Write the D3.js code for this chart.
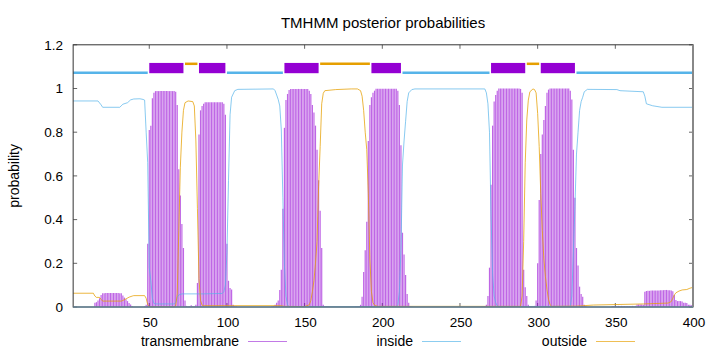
<!DOCTYPE html>
<html>
<head>
<meta charset="utf-8">
<script src="https://cdn.jsdelivr.net/npm/d3@7"></script>
<style>
  body { margin: 0; background: #fff; }
  svg { display: block; font-family: "Liberation Sans", Arial, sans-serif; }
</style>
</head>
<body>
<svg width="720" height="352"></svg>
<script>
// x ticks / y ticks
var xTicks = [50, 100, 150, 200, 250, 300, 350, 400];
var yTicks = [0, 0.2, 0.4, 0.6, 0.8, 1, 1.2];
var yTickLabels = ["0", "0.2", "0.4", "0.6", "0.8", "1", "1.2"];

// predicted topology (residue from, to)
var tmSegments = [[50, 72], [82, 99], [137, 159], [193, 212], [270, 292], [302, 324]];
var insideSegments = [[1, 49], [100, 136], [213, 269], [325, 400]];
var outsideSegments = [[73, 81], [160, 192], [293, 301]];

// transmembrane posterior, per residue, in runs starting at `start`
var tmRuns = [
    { start: 15, values: [0.02, 0.022, 0.03, 0.04, 0.055, 0.063, 0.063, 0.064, 0.064, 0.064, 0.064, 0.064, 0.064,
        0.064, 0.064, 0.064, 0.063, 0.063, 0.053, 0.043, 0.035, 0.027, 0.018, 0.012, 0.005] },
    { start: 47, values: [0.004, 0.01, 0.29, 0.81, 0.83, 0.955, 0.98,
        0.988, 0.988, 0.988, 0.988, 0.988, 0.988, 0.988, 0.988, 0.988, 0.988, 0.988, 0.988, 0.988,
        0.985, 0.925, 0.63, 0.51, 0.38, 0.27, 0.03, 0.005, 0.003, 0.003, 0.008, 0.003, 0.003,
        0.01, 0.11, 0.79, 0.9, 0.92, 0.93,
        0.937, 0.937, 0.937, 0.937, 0.937, 0.937, 0.937, 0.937, 0.937, 0.937, 0.937, 0.937,
        0.93, 0.88, 0.29, 0.12, 0.087, 0.08, 0.01, 0.004, 0.003] },
    { start: 129, values: [0.003, 0.005, 0.01, 0.02, 0.03, 0.078, 0.17, 0.45, 0.82, 0.947, 0.975, 0.993,
        0.998, 0.998, 0.998, 0.998, 0.998, 0.998, 0.998, 0.998, 0.998, 0.998, 0.998, 0.998,
        0.99, 0.975, 0.925, 0.89, 0.83, 0.72, 0.58, 0.44, 0.27, 0.01, 0.005, 0.004, 0.003] },
    { start: 183, values: [0.003, 0.003, 0.005, 0.01, 0.047, 0.16, 0.26, 0.39, 0.76, 0.925, 0.96, 0.98, 0.99,
        0.999, 0.999, 0.999, 0.999, 0.999, 0.999, 0.999, 0.999, 0.999, 0.999, 0.999, 0.999, 0.999, 0.999,
        0.99, 0.925, 0.74, 0.34, 0.24, 0.146, 0.06, 0.02, 0.005, 0.003] },
    { start: 264, values: [0.002, 0.002, 0.005, 0.01, 0.05, 0.18, 0.56, 0.83, 0.94, 0.97, 0.99,
        1, 1, 1, 1, 1, 1, 1, 1, 1, 1, 1, 1, 1, 1, 0.998,
        0.98, 0.17, 0.09, 0.05, 0.01, 0.005, 0.003] },
    { start: 297, values: [0.003, 0.005, 0.03, 0.2, 0.49, 0.7, 0.79, 0.856, 0.92, 0.98, 0.995,
        1, 1, 1, 1, 1, 1, 1, 1, 1, 1, 1, 1, 1,
        0.99, 0.95, 0.72, 0.5, 0.27, 0.19, 0.093, 0.06, 0.047, 0.01, 0.005] },
    { start: 348, values: [0.005, 0.005, 0.005, 0.005, 0.005, 0.005, 0.005, 0.005, 0.005, 0.005, 0.005, 0.005,
        0.005, 0.005, 0.005, 0.005, 0.012, 0.012, 0.012, 0.012, 0.01, 0.07,
        0.073, 0.074, 0.074, 0.075, 0.075, 0.075, 0.076, 0.076, 0.076, 0.077, 0.077, 0.077, 0.078, 0.078,
        0.077, 0.077, 0.076, 0.072, 0.055, 0.032, 0.027, 0.027, 0.027, 0.025, 0.02, 0.02, 0.018,
        0.01, 0.01, 0.008, 0.005] }
];

// inside / outside posterior, [residue, probability]
var insideProb = [[1, 0.943], [17, 0.943], [19, 0.925], [20, 0.914], [31, 0.914], [33, 0.928], [36, 0.935],
    [38, 0.948], [40, 0.952], [44, 0.953], [46, 0.95], [47, 0.947], [48, 0.8], [49, 0.66], [50, 0.18],
    [51, 0.12], [52, 0.04], [53, 0.016], [54, 0.014], [66, 0.014], [67, 0.02], [68, 0.045], [69, 0.055],
    [71, 0.06], [85, 0.06], [97, 0.062], [98, 0.07], [99, 0.1], [100, 0.25], [101, 0.58], [102, 0.88],
    [103, 0.96], [105, 0.99], [107, 0.996], [130, 0.998], [131, 0.99], [132, 0.97], [133, 0.95], [134, 0.92],
    [135, 0.81], [136, 0.5], [137, 0.19], [138, 0.05], [139, 0.01], [140, 0.002], [209, 0.002], [210, 0.01],
    [211, 0.07], [212, 0.26], [213, 0.65], [214, 0.76], [215, 0.85], [216, 0.94], [217, 0.98], [219, 0.995],
    [221, 0.998], [266, 0.998], [267, 0.98], [268, 0.93], [269, 0.8], [270, 0.42], [271, 0.15], [272, 0.05],
    [273, 0.02], [274, 0.005], [275, 0.002], [321, 0.003], [322, 0.05], [323, 0.25], [324, 0.46], [325, 0.7],
    [326, 0.8], [327, 0.9], [328, 0.94], [329, 0.96], [330, 0.985], [332, 0.996], [351, 0.995], [353, 0.99],
    [368, 0.985], [369, 0.965], [370, 0.93], [374, 0.921], [380, 0.914], [400, 0.914]];

var outsideProb = [[1, 0.063], [14, 0.063], [15, 0.05], [16, 0.044], [18, 0.044], [19, 0.035], [20, 0.027],
    [32, 0.027], [33, 0.03], [35, 0.037], [37, 0.045], [39, 0.05], [40, 0.052], [47, 0.052], [48, 0.04],
    [49, 0.01], [50, 0.003], [51, 0.001], [66, 0.001], [67, 0.005], [68, 0.06], [69, 0.35], [70, 0.64],
    [71, 0.8], [72, 0.9], [73, 0.935], [75, 0.943], [78, 0.94], [79, 0.92], [80, 0.76], [81, 0.45],
    [82, 0.13], [83, 0.03], [84, 0.008], [85, 0.006], [135, 0.006], [137, 0.003], [150, 0.002], [153, 0.01],
    [154, 0.03], [155, 0.07], [156, 0.12], [157, 0.2], [158, 0.3], [159, 0.55], [160, 0.734], [161, 0.93],
    [162, 0.978], [163, 0.99], [170, 0.995], [180, 0.998], [184, 0.998], [186, 0.99], [187, 0.965], [188, 0.9],
    [189, 0.8], [190, 0.72], [191, 0.52], [192, 0.22], [193, 0.07], [194, 0.02], [195, 0.008], [197, 0.003],
    [289, 0.003], [290, 0.05], [291, 0.3], [292, 0.66], [293, 0.856], [294, 0.947], [295, 0.985], [297, 0.998],
    [298, 0.995], [299, 0.98], [300, 0.886], [301, 0.734], [302, 0.52], [303, 0.35], [304, 0.22], [305, 0.14],
    [306, 0.08], [307, 0.035], [308, 0.01], [309, 0.003], [325, 0.004], [336, 0.009], [368, 0.014],
    [384, 0.018], [386, 0.025], [387, 0.04], [388, 0.055], [389, 0.065], [391, 0.073], [393, 0.078],
    [396, 0.08], [398, 0.086], [400, 0.09]];

var purple = "#9400d3", blue = "#56b4e9", orange = "#e69f00";

var svg = d3.select("svg");
// plot box (window.top is reserved, hence the names)
var plotLeft = 73.15, plotRight = 693, plotTop = 44.8, plotBottom = 307;

var x = d3.scaleLinear().domain([1, 400]).range([plotLeft, plotRight]);
var y = d3.scaleLinear().domain([0, 1.2]).range([plotBottom, plotTop]);

// flatten runs into per residue impulses
var impulses = [];
tmRuns.forEach(function(run) {
    run.values.forEach(function(v, i) {
        impulses.push({ res: run.start + i, p: v });
    });
});

// title
svg.append("text")
    .attr("x", (plotLeft + plotRight) / 2)
    .attr("y", 28)
    .attr("text-anchor", "middle")
    .style("font-size", "15px")
    .text("TMHMM posterior probabilities");

// y axis label
svg.append("text")
    .attr("transform", "translate(19," + ((plotTop + plotBottom) / 2) + ") rotate(-90)")
    .attr("text-anchor", "middle")
    .style("font-size", "14px")
    .text("probability");

// tick labels
svg.selectAll(".ylab").data(yTicks).enter().append("text")
    .attr("x", 63)
    .attr("y", function(d) { return y(d); })
    .attr("dy", "0.36em")
    .attr("text-anchor", "end")
    .style("font-size", "13.5px")
    .text(function(d, i) { return yTickLabels[i]; });

svg.selectAll(".xlab").data(xTicks).enter().append("text")
    .attr("x", function(d) { return x(d) + 1; })
    .attr("y", 327)
    .attr("text-anchor", "middle")
    .style("font-size", "13.5px")
    .text(function(d) { return d; });

// tick marks, inward, on all four sides
var ticks = svg.append("g").attr("stroke", "#666").attr("stroke-width", 1);
yTicks.forEach(function(d) {
    ticks.append("line").attr("x1", plotLeft).attr("x2", plotLeft + 4).attr("y1", y(d)).attr("y2", y(d));
    ticks.append("line").attr("x1", plotRight - 4).attr("x2", plotRight).attr("y1", y(d)).attr("y2", y(d));
});
xTicks.forEach(function(d) {
    ticks.append("line").attr("x1", x(d)).attr("x2", x(d)).attr("y1", plotBottom).attr("y2", plotBottom - 4);
    ticks.append("line").attr("x1", x(d)).attr("x2", x(d)).attr("y1", plotTop).attr("y2", plotTop + 4);
});

// transmembrane impulses
svg.append("g").selectAll("line").data(impulses).enter().append("line")
    .attr("x1", function(d) { return x(d.res); })
    .attr("x2", function(d) { return x(d.res); })
    .attr("y1", y(0))
    .attr("y2", function(d) { return y(d.p); })
    .attr("stroke", purple)
    .attr("stroke-opacity", 0.6)
    .attr("stroke-width", 1.2);

var line = d3.line()
    .x(function(d) { return x(d[0]); })
    .y(function(d) { return y(d[1]); });

svg.append("path").datum(insideProb)
    .attr("d", line)
    .attr("fill", "none")
    .attr("stroke", blue)
    .attr("stroke-opacity", 0.7)
    .attr("stroke-width", 1);

svg.append("path").datum(outsideProb)
    .attr("d", line)
    .attr("fill", "none")
    .attr("stroke", orange)
    .attr("stroke-opacity", 0.75)
    .attr("stroke-width", 1);

// topology bars above the curves
svg.append("g").selectAll("line").data(insideSegments).enter().append("line")
    .attr("x1", function(d) { return x(d[0]); })
    .attr("x2", function(d) { return x(d[1]); })
    .attr("y1", y(1.072)).attr("y2", y(1.072))
    .attr("stroke", blue)
    .attr("stroke-width", 2.5);

svg.append("g").selectAll("line").data(outsideSegments).enter().append("line")
    .attr("x1", function(d) { return x(d[0]); })
    .attr("x2", function(d) { return x(d[1]); })
    .attr("y1", y(1.113)).attr("y2", y(1.113))
    .attr("stroke", orange)
    .attr("stroke-width", 2.5);

svg.append("g").selectAll("rect").data(tmSegments).enter().append("rect")
    .attr("x", function(d) { return x(d[0]); })
    .attr("width", function(d) { return x(d[1]) - x(d[0]); })
    .attr("y", y(1.117))
    .attr("height", y(1.07) - y(1.117))
    .attr("fill", purple);

// frame
svg.append("rect")
    .attr("x", plotLeft).attr("y", plotTop)
    .attr("width", plotRight - plotLeft).attr("height", plotBottom - plotTop)
    .attr("fill", "none")
    .attr("stroke", "#333")
    .attr("stroke-width", 1);
svg.append("line")
    .attr("x1", plotRight).attr("x2", plotRight).attr("y1", plotTop).attr("y2", plotBottom)
    .attr("stroke", "#888")
    .attr("stroke-width", 2);
svg.append("line")
    .attr("x1", plotLeft).attr("x2", plotRight).attr("y1", plotBottom).attr("y2", plotBottom)
    .attr("stroke", "#6b8a9c")
    .attr("stroke-width", 1.5);

// legend
var legend = [
    { name: "transmembrane", color: "#c27ae6", textX: 239, lineX: 248 },
    { name: "inside", color: "#8ccdf0", textX: 413, lineX: 422 },
    { name: "outside", color: "#efbf55", textX: 587, lineX: 596 }
];
legend.forEach(function(d) {
    svg.append("text")
        .attr("x", d.textX).attr("y", 346)
        .attr("text-anchor", "end")
        .style("font-size", "14px")
        .text(d.name);
    svg.append("line")
        .attr("x1", d.lineX).attr("x2", d.lineX + 39)
        .attr("y1", 341.5).attr("y2", 341.5)
        .attr("stroke", d.color)
        .attr("stroke-width", 1.2);
});
</script>
</body>
</html>
